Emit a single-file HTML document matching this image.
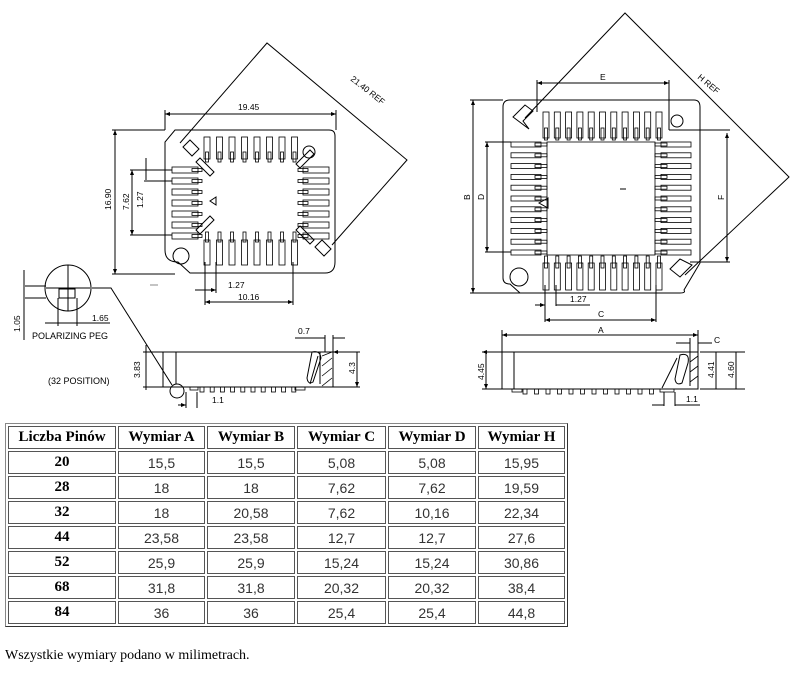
<!DOCTYPE html>
<html><head><meta charset="utf-8">
<style>
html,body{margin:0;padding:0;background:#fff;width:801px;height:674px;overflow:hidden}
svg{position:absolute;left:0;top:0}
table{position:absolute;left:5px;top:423px;border:1px solid #888;border-collapse:separate;border-spacing:2px;border-right-color:#333;border-bottom-color:#333}
td,th{border:1px solid #555;height:21px;padding:0;text-align:center;font-size:15px;color:#000}
th{font-family:"Liberation Serif",serif;font-weight:bold;font-size:15px}
td{font-family:"Liberation Sans",sans-serif;font-weight:normal;font-size:14px;color:#333}
td.b{font-family:"Liberation Serif",serif;font-weight:bold;font-size:15px;color:#000}
.note{position:absolute;left:5px;top:648px;font-family:"Liberation Serif",serif;font-size:14px}
</style></head><body>
<svg width="801" height="420" viewBox="0 0 801 420" font-family="Liberation Sans, sans-serif" font-size="8.5" fill="none" stroke="#000" stroke-width="1">
<defs><marker id="a" markerWidth="6" markerHeight="6" refX="5" refY="3" orient="auto-start-reverse"><path d="M0,1 L5,3 L0,5" fill="#000" stroke="none"/></marker></defs>
<path d="M175,130 H329 Q335,130 335,136 V262 Q335,273 325,273 H190 L178,262 Q165,262 165,250 V142 Z"/>
<circle cx="181" cy="256" r="8"/>
<circle cx="309" cy="152" r="6"/>
<g id="lp"></g>
<path d="M183,147 l7,-7 l9,9 l-7,7z M315,247 l7,-7 l9,9 l-7,7z"/>
<path d="M196,162 l4,-4 l14,14 l-4,4z M300,168 l-4,-4 l14,-14 l4,4z M196,230 l4,4 l14,-14 l-4,-4z M300,226 l-4,4 l14,14 l4,-4z"/>
<path d="M216,197 l-6,4 l6,4z"/>
<path d="M180,143 L267,43 L407,160 L332,245" />
<text x="350" y="80" fill="#000" stroke="none" transform="rotate(38 350 80)">21.40 REF</text>
<path d="M165,114 H336" marker-start="url(#a)" marker-end="url(#a)"/>
<path d="M165,110 V130 M336,110 V130"/>
<text x="238" y="110" fill="#000" stroke="none">19.45</text>
<path d="M115,130 V274" marker-start="url(#a)" marker-end="url(#a)"/>
<path d="M112,130 H165 M112,274 H175"/>
<text x="111" y="210" fill="#000" stroke="none" transform="rotate(-90 111 210)">16.90</text>
<path d="M132,170 V235" marker-start="url(#a)" marker-end="url(#a)"/>
<path d="M130,170 H172 M130,235 H172 M146,158 V180 M144,181 H172"/>
<text x="129" y="210" fill="#000" stroke="none" transform="rotate(-90 129 210)">7.62</text>
<text x="143" y="208" fill="#000" stroke="none" transform="rotate(-90 143 208)">1.27</text>
<path d="M205,262 V305 M216,262 V293 M293,262 V305"/>
<path d="M195,290 H216" marker-end="url(#a)"/>
<text x="228" y="288" fill="#000" stroke="none">1.27</text>
<path d="M205,302 H293" marker-start="url(#a)" marker-end="url(#a)"/>
<text x="238" y="300" fill="#000" stroke="none">10.16</text>
<path d="M150,285 h8" stroke="#888"/>
<circle cx="68" cy="288" r="23"/>
<path d="M68,265 V311 M46,288 H90"/>
<path d="M59,289 h16 v9 h-16z"/>
<path d="M25,286 H46 M25,298 H46 M24,270 V340" />
<path d="M58,298 V326 M77,298 V326 M45,323 H110" />
<text x="20" y="332" fill="#000" stroke="none" transform="rotate(-90 20 332)">1.05</text>
<text x="92" y="321" fill="#000" stroke="none">1.65</text>
<text x="32" y="339" fill="#000" stroke="none" font-size="9">POLARIZING  PEG</text>
<text x="48" y="384" fill="#000" stroke="none" font-size="9">(32  POSITION)</text>
<path d="M92,288 H111 L172,385"/>
<path d="M163,352 H333 V387 H163 Z M176,352 V384"/>
<path d="M310,384 L318,356 M320,384 V352"/>
<path d="M312,352 q8,-2 9,6 l-8,24 q-5,3 -6,-4z"/>
<path d="M322,356 l10,-4 M322,366 l10,-8 M322,376 l10,-8 M322,386 l10,-8" stroke-width=".8"/>
<circle cx="177" cy="391" r="7"/>
<g id="ls"></g>
<path d="M143,352 H163 M143,387 H163 M146,345 V390" />
<text x="140" y="378" fill="#000" stroke="none" transform="rotate(-90 140 378)">3.83</text>
<path d="M186,392 V408 M197,392 V408 M178,405 H186" marker-end="url(#a)"/>
<text x="212" y="403" fill="#000" stroke="none">1.1</text>
<path d="M295,338 H325 M325,335 V352 M333,335 V352 M333,338 H345"/>
<text x="298" y="334" fill="#000" stroke="none">0.7</text>
<path d="M333,352 H360 M333,387 H360 M357,352 V387" marker-start="url(#a)" marker-end="url(#a)"/>
<text x="355" y="374" fill="#000" stroke="none" transform="rotate(-90 355 374)">4.3</text>
<path d="M510,100 H694 Q700,100 700,107 V263 L684,290 Q686,293 680,293 H520 L510,284 Q503,284 503,278 V107 Q503,100 510,100 Z"/>
<circle cx="519" cy="277" r="9"/>
<circle cx="677" cy="121" r="6"/>
<path d="M513,117 l12,-12 l8,6 l-10,10 l6,8 z M692,265 l-12,12 l-10,-8 l10,-10 z"/>
<path d="M548,198 l-9,5 l9,5z"/>
<path d="M620,189 h6"/>
<g id="rp"></g>
<path d="M525,118 L625,13 L789,177 L685,275"/>
<text x="697" y="78" fill="#000" stroke="none" transform="rotate(40 697 78)">H REF</text>
<path d="M537,83 H669" marker-start="url(#a)" marker-end="url(#a)"/>
<path d="M537,80 V112 M669,80 V130 M669,130 H730"/>
<text x="600" y="80" fill="#000" stroke="none">E</text>
<path d="M473,100 V293" marker-start="url(#a)" marker-end="url(#a)"/>
<path d="M470,100 H503 M470,293 H520"/>
<text x="470" y="200" fill="#000" stroke="none" transform="rotate(-90 470 200)">B</text>
<path d="M487,142 V252" marker-start="url(#a)" marker-end="url(#a)"/>
<path d="M485,142 H511 M485,252 H511"/>
<text x="484" y="200" fill="#000" stroke="none" transform="rotate(-90 484 200)">D</text>
<path d="M727,133 V262" marker-start="url(#a)" marker-end="url(#a)"/>
<path d="M690,262 H730"/>
<text x="724" y="200" fill="#000" stroke="none" transform="rotate(-90 724 200)">F</text>
<path d="M545,285 V322 M556,285 V306 M656,285 V322"/>
<path d="M535,305 H545" marker-end="url(#a)"/>
<path d="M556,305 H590"/>
<text x="570" y="302" fill="#000" stroke="none">1.27</text>
<path d="M545,320 H656" marker-start="url(#a)" marker-end="url(#a)"/>
<text x="598" y="317" fill="#000" stroke="none">C</text>
<path d="M502,352 H698 V389 H502 Z M514,352 V389"/>
<path d="M662,388 L677,358 M690,386 V352"/>
<path d="M680,355 q10,-3 8,8 l-6,20 q-6,3 -7,-4z"/>
<path d="M690,362 l8,-6 M690,372 l8,-6 M690,382 l8,-6" stroke-width=".8"/>
<g id="rs"></g>
<path d="M502,335 H698" marker-start="url(#a)" marker-end="url(#a)"/>
<text x="598" y="333" fill="#000" stroke="none">A</text>
<path d="M502,330 V352 M698,330 V352 M676,343 H690 M690,338 V352 M698,343 H712"/>
<text x="714" y="343" fill="#000" stroke="none">C</text>
<path d="M482,352 H502 M482,389 H502 M486,352 V389" marker-start="url(#a)" marker-end="url(#a)"/>
<text x="484" y="380" fill="#000" stroke="none" transform="rotate(-90 484 380)">4.45</text>
<path d="M700,352 H745 M700,389 H745 M716,352 V389 M736,352 V389"/>
<text x="714" y="378" fill="#000" stroke="none" transform="rotate(-90 714 378)">4.41</text>
<text x="734" y="378" fill="#000" stroke="none" transform="rotate(-90 734 378)">4.60</text>
<path d="M664,392 V406 M675,392 V406 M652,405 H664 M675,405 H700"/>
<text x="686" y="402" fill="#000" stroke="none">1.1</text>
</svg>
<script>
var NS="http://www.w3.org/2000/svg";
function R(g,x,y,w,h){var r=document.createElementNS(NS,"rect");r.setAttribute("x",x);r.setAttribute("y",y);r.setAttribute("width",w);r.setAttribute("height",h);r.setAttribute("stroke-width","0.8");document.getElementById(g).appendChild(r);}
for(var i=0;i<8;i++){var x=204+i*12.5;R("lp",x,137,6,22);R("lp",x+1.5,152,3,10);R("lp",x,240,6,25);R("lp",x+1.5,232,3,10);}
for(var i=0;i<7;i++){var y=167+i*11;R("lp",172,y,26,6);R("lp",192,y+1.5,10,3);R("lp",303,y,26,6);R("lp",298,y+1.5,10,3);}
for(var i=0;i<11;i++){var x=543+i*11.3;R("rp",x,112,6,26);R("rp",x+1.5,128,3,12);R("rp",x,263,6,27);R("rp",x+1.5,256,3,12);}
for(var i=0;i<11;i++){var y=142+i*10.8;R("rp",511,y,30,5);R("rp",535,y+1,12,3);R("rp",661,y,30,5);R("rp",655,y+1,12,3);}
R("rp",547,142,108,113);
for(var i=0;i<10;i++){R("ls",200+i*10.2,387,4,5);}
R("ls",190,387,8,3);R("ls",295,387,10,3);
for(var i=0;i<12;i++){R("rs",523+i*11.5,389,4,5);}
R("rs",512,389,10,3);R("rs",660,389,14,3);
</script>
<table>
<tr><th style="width:106px">Liczba Pinów</th><th style="width:85px">Wymiar A</th><th style="width:86px">Wymiar B</th><th style="width:87px">Wymiar C</th><th style="width:86px">Wymiar D</th><th style="width:85px">Wymiar H</th></tr>
<tr><td class="b">20</td><td>15,5</td><td>15,5</td><td>5,08</td><td>5,08</td><td>15,95</td></tr>
<tr><td class="b">28</td><td>18</td><td>18</td><td>7,62</td><td>7,62</td><td>19,59</td></tr>
<tr><td class="b">32</td><td>18</td><td>20,58</td><td>7,62</td><td>10,16</td><td>22,34</td></tr>
<tr><td class="b">44</td><td>23,58</td><td>23,58</td><td>12,7</td><td>12,7</td><td>27,6</td></tr>
<tr><td class="b">52</td><td>25,9</td><td>25,9</td><td>15,24</td><td>15,24</td><td>30,86</td></tr>
<tr><td class="b">68</td><td>31,8</td><td>31,8</td><td>20,32</td><td>20,32</td><td>38,4</td></tr>
<tr><td class="b">84</td><td>36</td><td>36</td><td>25,4</td><td>25,4</td><td>44,8</td></tr>
</table>
<div class="note">Wszystkie wymiary podano w milimetrach.</div>
</body></html>
